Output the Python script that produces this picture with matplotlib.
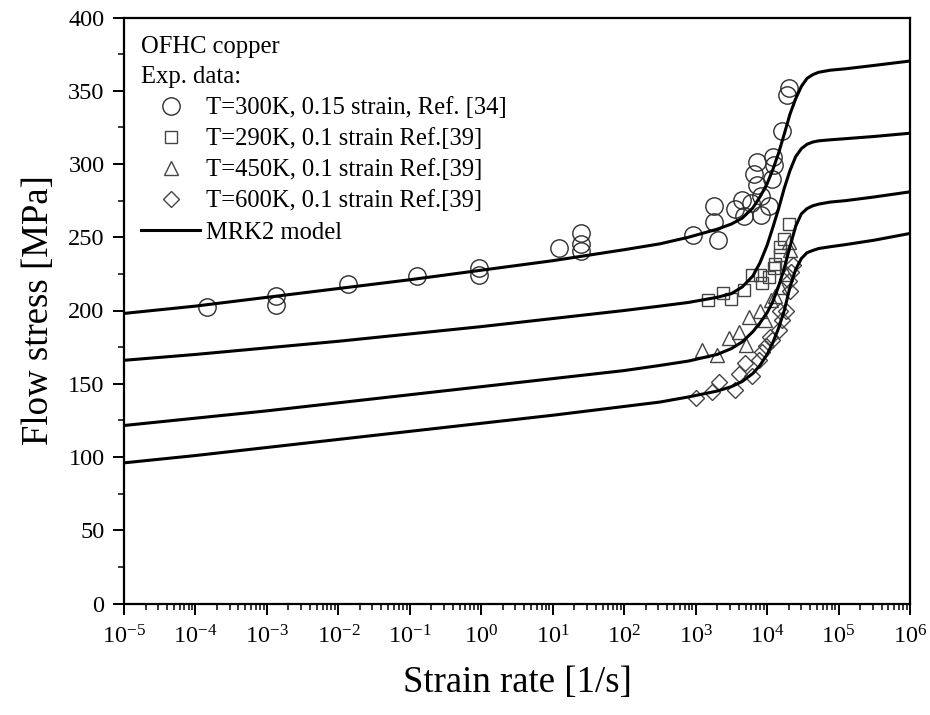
import matplotlib
matplotlib.use("Agg")
import matplotlib.pyplot as plt
from matplotlib.ticker import FixedLocator, LogLocator, NullFormatter, MultipleLocator
from matplotlib.lines import Line2D

plt.rcParams['font.family'] = ['Liberation Serif', 'DejaVu Serif']
plt.rcParams['mathtext.fontset'] = 'custom'
plt.rcParams['mathtext.rm'] = 'Liberation Serif'

# ---- model curves (MRK2) ----
model_rate = [1e-5, 1e-4, 1e-3, 1e-2, 1e-1, 1, 10, 100, 316, 794, 2000, 3160, 4470,
              6310, 7940, 1.0e4, 1.20e4, 1.45e4, 1.74e4, 2.09e4, 2.51e4, 3.02e4,
              3.63e4, 4.37e4, 5.25e4, 7.59e4, 1.26e5, 3.16e5, 1e6]
model_300K = [198, 203, 209, 215, 221, 227.5, 234, 241.5, 245.5, 250, 255.5, 259, 263,
              270, 277.5, 286.5, 296, 307.5, 320.5, 334, 344.5, 353, 358.5, 361,
              362.6, 364, 365, 367.3, 370.3]
model_290K = [166, 170, 174.5, 179, 184, 189, 194.5, 200, 203, 205.5, 209, 211.5, 216,
              223.5, 232.5, 244.5, 256.5, 269.5, 283.5, 295.5, 305, 310.5, 313.5, 315,
              315.8, 316.5, 317.3, 318.8, 321]
model_450K = [121.5, 126.5, 131.5, 137, 142.5, 148, 153.5, 159, 162.5, 165.5, 170, 174,
              178.5, 185.5, 191.5, 198.5, 206, 216.5, 229, 243.5, 257.5, 266, 269.6,
              271.5, 272.6, 274, 275, 277.5, 281]
model_600K = [96, 101, 106.5, 112, 117.5, 123, 128.5, 134.5, 137.5, 141, 145, 148, 151.5,
              157, 162.5, 170, 178, 188, 200, 216, 228, 235.5, 239.5, 241, 242.3, 243.5,
              245, 248, 252.6]

# ---- experimental data ----
circ_rate = [1.45e-4, 1.35e-3, 1.35e-3, 1.35e-2, 0.127, 0.92, 0.92, 12.2, 25, 25, 25,
             933, 1780, 1820, 2040, 3550, 4420, 4680, 5890, 7240, 8130, 8130, 10700,
             6460, 7160, 11600, 12000, 12300, 16400, 19100, 20400]
circ_stress = [202.2, 209.9, 203.7, 218, 223.7, 228.7, 224.2, 242.4, 252.6, 245.5, 240.5,
               251.4, 271.5, 260.5, 248.3, 269.6, 275.3, 264.8, 273.5, 286, 265, 278,
               271.5, 293, 301.5, 290, 305, 299, 322.8, 346.8, 351.8]

sq_rate = [1510, 2450, 3090, 4790, 6170, 7940, 8510, 10500, 12300, 12900, 15100, 15100,
           17000, 20000]
sq_stress = [207.5, 212.2, 208, 214, 224, 224, 218.5, 223, 228.7, 232, 237.8, 243.5,
             249, 259.3]

tri_rate = [1230, 2000, 2950, 3980, 5130, 5500, 7940, 9330, 11500, 12900, 15100, 18600,
            20900, 20000]
tri_stress = [173, 169.7, 181, 185.6, 176.5, 195.8, 200, 193.5, 207, 210, 216, 225,
              241.5, 247]

dia_rate = [1000, 1700, 2090, 3550, 4070, 4900, 6170, 7590, 8510, 9770, 11700, 11000,
            14500, 16200, 15100, 18600, 20900, 20000, 21900, 23400]
dia_stress = [140.5, 144.7, 151, 145.5, 156.5, 164, 155, 166.5, 172, 176, 180, 182,
              187, 193.5, 200, 199.5, 213, 220, 226, 231]

labels = ["T=300K, 0.15 strain, Ref. [34]", "T=290K, 0.1 strain Ref.[39]",
          "T=450K, 0.1 strain Ref.[39]", "T=600K, 0.1 strain Ref.[39]", "MRK2 model"]
title_lines = "OFHC copper\nExp. data:"
x_exponents = list(range(-5, 7))
y_ticks = [0, 50, 100, 150, 200, 250, 300, 350, 400]

fig = plt.figure(figsize=(9.3, 7.15), dpi=100)
ax = fig.add_axes([124 / 930, 1 - 603.5 / 715, (910 - 124) / 930, (603.5 - 17.5) / 715])

mec = '#2e2e2e'
ax.plot(circ_rate, circ_stress, linestyle='none', marker='o', ms=12.5, mfc='none',
        mec=mec, mew=1.0, zorder=3)
ax.plot(sq_rate, sq_stress, linestyle='none', marker='s', ms=8.3, mfc='none',
        mec='#444444', mew=1.0, zorder=3)
ax.plot(tri_rate, tri_stress, linestyle='none', marker='^', ms=10.5, mfc='none',
        mec='#444444', mew=1.0, zorder=3)
ax.plot(dia_rate, dia_stress, linestyle='none', marker='D', ms=8, mfc='none',
        mec='#444444', mew=1.0, zorder=3)
for ys in (model_300K, model_290K, model_450K, model_600K):
    ax.plot(model_rate, ys, color='black', lw=2.2, zorder=4, solid_joinstyle='round')

ax.set_xscale('log')
ax.set_xlim(1e-5, 1e6)
ax.set_ylim(0, 400)
ax.xaxis.set_major_locator(FixedLocator([10.0 ** e for e in x_exponents]))
ax.set_xticklabels([r'$\mathregular{10^{%d}}$' % e for e in x_exponents])
ax.xaxis.set_minor_locator(LogLocator(base=10, subs=range(2, 10), numticks=100))
ax.xaxis.set_minor_formatter(NullFormatter())
ax.set_yticks(y_ticks)
ax.yaxis.set_minor_locator(MultipleLocator(25))

ax.tick_params(which='major', direction='out', length=8, width=1.4, labelsize=17.5,
               top=False, right=False, pad=6)
ax.tick_params(which='minor', direction='out', length=4.5, width=1.1, top=False, right=False)
ax.tick_params(axis='x', which='major', pad=8)
for s in ax.spines.values():
    s.set_linewidth(1.6)

ax.set_xlabel('Strain rate [1/s]', fontsize=26.5, labelpad=12)
ax.set_ylabel('Flow stress [MPa]', fontsize=26.5, labelpad=9)

handles = [
    Line2D([], [], linestyle='none', marker='o', ms=12.5, mfc='none', mec=mec, mew=1.0),
    Line2D([], [], linestyle='none', marker='s', ms=8.3, mfc='none', mec='#444444', mew=1.0),
    Line2D([], [], linestyle='none', marker='^', ms=10.5, mfc='none', mec='#444444', mew=1.0),
    Line2D([], [], linestyle='none', marker='D', ms=8, mfc='none', mec='#444444', mew=1.0),
    Line2D([], [], color='black', lw=2.2),
]
leg = ax.legend(handles, labels, title=title_lines, loc='upper left',
                bbox_to_anchor=(0.022, 0.968), frameon=False, fontsize=17.7,
                title_fontsize=17.7, alignment='left', handlelength=2.4,
                handletextpad=0.25, labelspacing=0.36, borderpad=0, borderaxespad=0)
leg.get_title().set_linespacing(1.47)

fig.savefig('out.png', dpi=100)
